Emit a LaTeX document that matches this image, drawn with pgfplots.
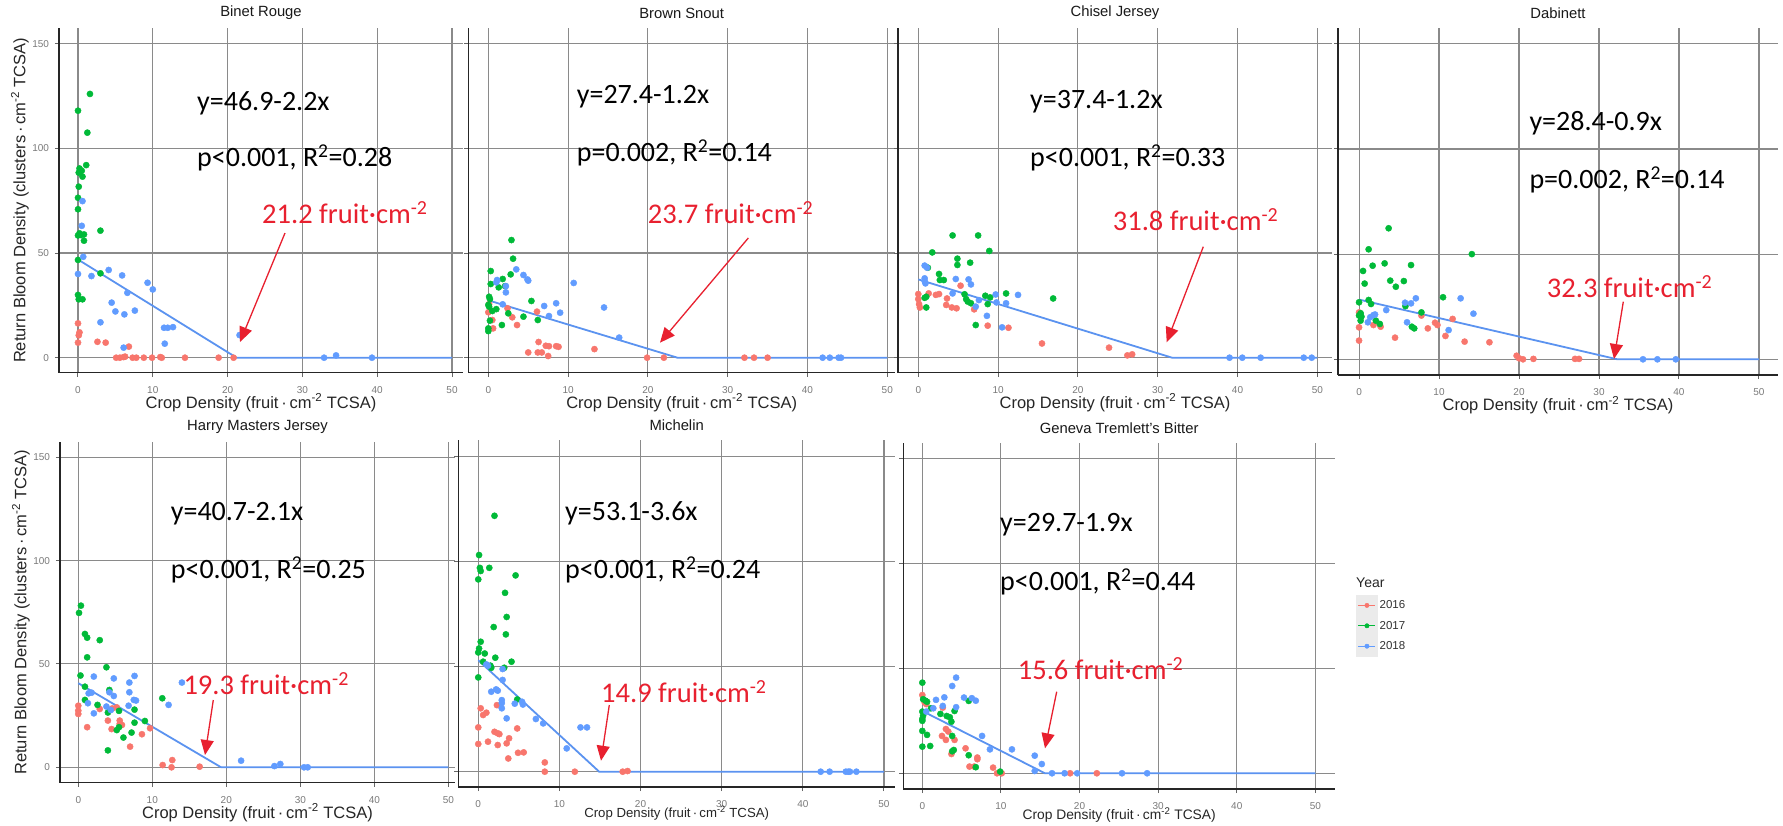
\documentclass[border=0pt]{standalone}
\usepackage{pgfplots}
\pgfplotsset{compat=1.18}
\usepackage{fontspec}
\setmainfont{Liberation Sans}
\newfontfamily\carl{Carlito}
\usetikzlibrary{arrows.meta}
\definecolor{c16}{HTML}{F8766D}
\definecolor{c17}{HTML}{00BA38}
\definecolor{c18}{HTML}{619CFF}
\definecolor{regc}{HTML}{5B93F0}
\definecolor{redt}{HTML}{E8202F}
\definecolor{gridc}{HTML}{8A8A8A}
\definecolor{tickc}{HTML}{7A7A7A}
\newcommand\eqf{\carl\fontsize{28}{31}\selectfont}
\newcommand\redf{\carl\fontsize{28.5}{32}\selectfont\color{redt}}
\newcommand\xlab{Crop Density (fruit\,·\,cm\textsuperscript{-2} TCSA)}
\newcommand\ylab{Return Bloom Density (clusters\,·\,cm\textsuperscript{-2} TCSA)}
\newcommand\tf{\fontsize{14.8}{17}\selectfont}
\pgfplotsset{
 panel/.style={scale only axis, axis x line*=bottom, axis y line*=left,
  axis line style={line width=1.3pt, draw=black!85, -},
  grid=major, grid style={draw=gridc, line width=1.1pt},
  xtick={0,10,20,30,40,50}, ytick={0,50,100,150},
  tick align=outside, major tick length=4pt,
  tick style={draw=black!60, line width=1pt},
  xticklabel style={font=\fontsize{10}{11}\selectfont, text=tickc, yshift=-6pt},
  yticklabel style={font=\fontsize{10}{11}\selectfont, text=tickc, xshift=-2.5pt},
  /pgf/number format/assume math mode=true,
  every axis title/.style={at={(axis description cs:0.5,1)}, anchor=center, yshift=15pt, font=\tf, text=black!90},
  xlabel style={at={(axis description cs:0.5,0)}, anchor=center, yshift=-30pt, font=\fontsize{16.5}{19}\selectfont, text=black!85},
  ylabel style={font=\fontsize{16.5}{19}\selectfont, text=black!85},
  clip=false, xlabel={\xlab}},
 noyl/.style={yticklabels={}},
 s16/.style={only marks, mark=*, mark size=3.1pt, color=c16, mark options={draw=none, fill=c16}},
 s17/.style={only marks, mark=*, mark size=3.1pt, color=c17, mark options={draw=none, fill=c17}},
 s18/.style={only marks, mark=*, mark size=3.1pt, color=c18, mark options={draw=none, fill=c18}},
 reg/.style={regc, line width=1.8pt, no marks, forget plot},
 leg16/.style={legend image code/.code={\fill[black!8](-2pt,-10pt) rectangle (19pt,10pt); \draw[c16, line width=1pt](0pt,0pt)--(17pt,0pt); \fill[c16](8.5pt,0pt) circle (2.2pt);}},
 leg17/.style={legend image code/.code={\fill[black!8](-2pt,-10pt) rectangle (19pt,10pt); \draw[c17, line width=1pt](0pt,0pt)--(17pt,0pt); \fill[c17](8.5pt,0pt) circle (2.2pt);}},
 leg18/.style={legend image code/.code={\fill[black!8](-2pt,-10pt) rectangle (19pt,10pt); \draw[c18, line width=1pt](0pt,0pt)--(17pt,0pt); \fill[c18](8.5pt,0pt) circle (2.2pt);}},
}
\tikzset{arr/.style={draw=redt, line width=1.3pt, -{Triangle[length=15pt,width=13pt]}}}
\begin{document}
\begin{tikzpicture}
\useasboundingbox (0,0) rectangle (1783pt,-825pt);
\fill[white] (0,0) rectangle (1783pt,-825pt);
% Panel 1
\begin{axis}[panel, at={(59pt,-372.7pt)}, anchor=south west, width=404pt, height=344.7pt,
 xmin=-2.54, xmax=51.47, ymin=-7.17, ymax=157.5, title={\tf Binet Rouge},
 ylabel={\ylab}, ylabel style={at={(axis description cs:-0.0965,0.5)}, anchor=center}]
\addplot[s16] coordinates {(0,16.4) (0.2,12.1) (0.1,10.7) (0,7.2) (2.6,7.6) (3.7,7.2) (6.8,5.3) (5.1,0) (5.6,0) (6.1,0.3) (6.3,0.5) (7.3,0) (7.8,0) (8.8,0) (9.9,0) (11.0,0.3) (11.2,0) (14.3,0) (18.8,0) (20.8,0)};
\addplot[s17] coordinates {(1.6,126) (0,118) (1.25,107.5) (1.1,92) (0.2,90.4) (0.5,89.3) (0.1,88.4) (0.6,86.5) (0.1,81.7) (0,76.4) (0,70.9) (3.0,60.7) (0.2,59.4) (0,58.4) (0.8,58.9) (0.4,58.6) (0.8,55.9) (0,46.7) (3.0,40.3) (0,30) (0.1,27.9) (0.6,27.9)};
\addplot[s18] coordinates {(0.6,74.8) (0.5,63) (0.7,48.2) (0,40) (1.8,39) (4.1,41.9) (5.9,39.3) (9.3,35.8) (10.0,32.6) (6.6,31) (4.5,26.3) (5.0,22.1) (6.2,20.7) (7.6,22.5) (3.0,16.9) (11.5,14.3) (12.0,14.3) (12.7,14.6) (11.6,6.7) (6.1,4.8) (21.6,10.8) (32.9,0) (34.5,1.1) (39.3,0)};
\addplot[reg] coordinates {(0,46.9) (21.2,0) (50,0)};
\end{axis}
% Panel 2
\begin{axis}[panel, noyl, at={(468.3pt,-372.7pt)}, anchor=south west, width=426.7pt, height=344.7pt,
 xmin=-2.51, xmax=50.97, ymin=-7.17, ymax=157.5, title={\tf Brown Snout}]
\addplot[s16] coordinates {(0,21.7) (0.5,18) (0.6,14) (0.1,25.6) (2.4,23.6) (3.0,19.3) (3.6,15.6) (6.1,22) (6.3,7.5) (5.0,2.5) (6.2,2.5) (6.7,2.5) (7.2,5.7) (7.6,5.5) (7.5,0.8) (8.5,5.5) (8.8,5.2) (13.3,4.1) (19.9,0) (22.0,0) (32.1,0) (33.3,0) (35.0,0)};
\addplot[s17] coordinates {(2.9,56.2) (3.1,47.3) (0.3,41.4) (2.8,39.8) (1.8,37.6) (0.3,35.2) (1.3,33.6) (2.1,34.2) (0.1,29.1) (0.2,28) (5.4,27.1) (0,25.2) (0.1,24.4) (1.0,23.2) (0.5,22.3) (2.5,21.2) (4.4,19.6) (6.2,18) (0.2,17.7) (1.7,15.6) (0,14) (0,12.7)};
\addplot[s18] coordinates {(3.5,42.2) (4.4,39.5) (4.9,37.4) (5.0,36.8) (1.1,37.1) (1.0,36) (2.2,34.2) (2.2,31.2) (10.7,35.7) (1.8,25.5) (8.5,26) (7.0,24.7) (9.0,21.5) (7.6,19.9) (14.5,24) (16.4,9.6) (41.9,0) (42.8,0) (43.9,0) (44.2,0)};
\addplot[reg] coordinates {(0,27.4) (23.7,0) (50,0)};
\end{axis}
% Panel 3
\begin{axis}[panel, noyl, at={(898pt,-372.7pt)}, anchor=south west, width=434pt, height=344.7pt,
 xmin=-2.54, xmax=51.84, ymin=-7.17, ymax=157.5, title={\tf Chisel Jersey}]
\addplot[s16] coordinates {(0,30.4) (0,28) (0.1,25.6) (0.2,24) (1.3,30.7) (2.2,30) (2.6,30.4) (3.6,28.3) (3.5,25.2) (4.2,24) (4.8,23.6) (5.3,34.4) (7.0,23.1) (8.7,15.3) (11.3,14.3) (15.5,6.8) (23.9,4.8) (26.2,1.1) (26.8,1.6)};
\addplot[s17] coordinates {(4.3,58.4) (7.5,58.4) (8.9,51) (1.75,50.3) (4.9,47.3) (4.9,44.3) (6.5,45.4) (1.2,43) (2.6,40) (2.7,37.1) (3.2,37.1) (1.0,29.1) (0.8,28.6) (5.8,30.3) (6.0,28) (6.2,26.8) (6.6,26) (8.4,29.6) (9.0,28.8) (8.7,25.6) (11.0,30.7) (16.9,28.3) (1.0,24) (7.2,15.6)};
\addplot[s18] coordinates {(0.8,44) (1.1,43) (0.8,37.9) (0.8,36.6) (0.9,35.5) (4.7,37.6) (6.3,37.4) (6.6,35) (4.3,30.7) (7.6,27.5) (7.2,24.4) (9.7,30.2) (9.8,26.4) (11.0,26) (12.5,30) (8.6,20) (10.5,14.5) (39,0) (40.6,0) (42.9,0) (48.3,0) (49.3,0)};
\addplot[reg] coordinates {(0,37.4) (31.8,0) (50,0)};
\end{axis}
% Panel 4
\begin{axis}[panel, noyl, at={(1338pt,-375pt)}, anchor=south west, width=440pt, height=347pt,
 xmin=-2.63, xmax=52.38, ymin=-7.46, ymax=157.5, title={\tf Dabinett}]
\addplot[s16] coordinates {(0,22.3) (0,15.2) (0,8.9) (1.8,16.3) (2.7,15.5) (4.5,10.3) (8.6,14.7) (9.5,17.4) (9.8,16.3) (7.8,20.8) (11.7,19.2) (10.8,11.1) (13.2,8.4) (16.3,8.1) (19.7,1.7) (20.0,0.5) (20.5,0) (21.8,0.2) (27.0,0.2) (27.5,0.2)};
\addplot[s17] coordinates {(3.7,62.3) (1.2,52.3) (14.1,50) (0.5,42) (1.7,44.5) (3.2,45.6) (6.5,44.8) (0.7,36) (3.9,37.4) (5.6,37.2) (4.6,34.5) (10.5,29.5) (0,27.1) (1.2,28.2) (1.5,26.3) (5.8,25.3) (7.8,22.3) (0.2,21.9) (0,20.8) (0.3,20.3) (0.2,18.4) (2.1,18.4) (2.6,16.8) (6.9,14.7) (6.6,15.5)};
\addplot[s18] coordinates {(5.75,26.9) (6.5,26.6) (7.1,29) (3.4,23.4) (12.7,29) (14.3,21.7) (1.8,21) (2.0,21.3) (1.4,20) (1.1,17.6) (6.0,17.6) (11.2,13.9) (35.5,0) (37.3,0) (39.6,0)};
\addplot[reg] coordinates {(0,28.4) (32.3,0) (50,0)};
\end{axis}
% Panel 5
\begin{axis}[panel, at={(60pt,-782.7pt)}, anchor=south west, width=395pt, height=341pt,
 xmin=-2.47, xmax=50.9, ymin=-7.45, ymax=157.5, title={\tf Harry Masters Jersey},
 ylabel={\ylab}, ylabel style={at={(axis description cs:-0.0987,0.5)}, anchor=center}]
\addplot[s16] coordinates {(0,29.8) (0,27.4) (0,25.8) (1.2,19.4) (2.9,28.2) (4.0,22.6) (4.6,28.5) (4.5,18.5) (5.6,22.6) (5.6,21) (5.2,29) (5.9,20.5) (7.0,10) (8.6,16) (9.7,18.9) (11.4,1.1) (12.7,3.5) (12.6,0) (16.4,0.3)};
\addplot[s17] coordinates {(0.36,78.2) (0.1,74.7) (0.9,64.5) (1.2,62.7) (2.9,61.5) (1.2,53.2) (3.8,48.4) (0.3,44.4) (0.9,39) (4.2,37.4) (0.9,32.6) (2.6,30.2) (11.35,33.4) (7.6,27.9) (5.5,27.3) (4.0,26.5) (9.0,22.4) (7.6,21.6) (5.5,19.4) (5.2,18) (7.2,16.8) (6.1,14.4) (4.0,8.2)};
\addplot[s18] coordinates {(2.1,43.9) (7.6,44.2) (4.8,43) (6.9,41) (14.0,41) (4.2,36.3) (1.4,35.8) (1.8,36.1) (6.9,36.3) (4.8,34.5) (7.5,32.6) (7.8,32.3) (1.3,31) (3.8,29.4) (6.8,29.8) (4.4,27.7) (2.1,26.1) (12.2,30.2) (22.0,3.2) (26.5,0.6) (27.3,1.6) (30.5,0) (31.0,0)};
\addplot[reg] coordinates {(0,40.7) (19.3,0) (50,0)};
\end{axis}
% Panel 6
\begin{axis}[panel, noyl, at={(458.3pt,-787pt)}, anchor=south west, width=436.7pt, height=347pt,
 xmin=-2.46, xmax=51.36, ymin=-7.3, ymax=158, title={\tf Michelin},
 xlabel style={yshift=4pt, font=\fontsize{13.2}{15}\selectfont}]
\addplot[s16] coordinates {(0.3,30.2) (0.6,27) (1.0,28.1) (2.3,31.7) (0,21.1) (0,13.2) (1.2,14.3) (2.0,19) (2.4,18.3) (2.6,17.9) (2.4,12.7) (3.5,13.5) (3.8,15.9) (4.8,20.6) (3.7,6.3) (4.9,9) (5.6,9.2) (8.2,4.4) (8.2,0) (11.9,0) (17.8,0) (18.4,0.3)};
\addplot[s17] coordinates {(2.0,121.9) (0.1,103.2) (0.2,97.1) (0.3,95.6) (1.36,97.1) (0,91.6) (4.6,93.5) (3.3,85.2) (3.5,73.7) (1.9,68.9) (3.4,65.4) (0.3,61.9) (0.1,58.7) (0,56.8) (0.8,56.3) (2.1,54.3) (4.1,52.4) (0.6,52.4) (1.5,50.5) (1.6,49.5) (3.2,49.5) (0,44.9) (4.8,34.4)};
\addplot[s18] coordinates {(1.0,51.1) (1.2,50.5) (3.0,48.9) (3.0,43.7) (1.6,38.1) (2.2,39.2) (2.4,38.6) (2.9,34.1) (2.9,32.7) (2.9,30.2) (5.4,33.3) (5.5,32) (4.5,32.4) (3.5,25.4) (7.1,25.1) (8.0,23) (12.6,21.1) (13.4,21.1) (10.9,11.1) (42.2,0) (43.3,0) (45.3,0) (45.6,0) (45.8,0) (46.6,0)};
\addplot[reg] coordinates {(0,53.1) (14.9,0) (50,0)};
\end{axis}
% Panel 7
\begin{axis}[panel, noyl, at={(903.3pt,-789pt)}, anchor=south west, width=431.7pt, height=345.7pt,
 xmin=-2.42, xmax=52.5, ymin=-7.5, ymax=157.3, title={\tf Geneva Tremlett's Bitter},
 xlabel style={yshift=4pt, font=\fontsize{13.8}{15}\selectfont},
 legend style={at={(axis description cs:1.0487,0.5612)}, anchor=north west, draw=none, fill=none, inner sep=0pt, row sep=0pt,
  font=\fontsize{11.5}{13}\selectfont, text=black!80, nodes={inner ysep=0pt, minimum height=20pt}},
 legend cell align=left]
\addplot[s16, leg16] coordinates {(0,37.3) (0.3,33.8) (0.5,33) (2.6,31.3) (3.0,21.1) (3.3,19.9) (2.5,17.8) (3.0,15.9) (4.1,15.9) (3.7,9.2) (5.5,11.9) (7.0,7.5) (7.0,6.7) (6.0,3.2) (6.6,3.2) (9.0,2.7) (9.5,0) (10.1,0) (18.8,0) (22.2,0)};
\addlegendentry{2016}
\addplot[s17, leg17] coordinates {(0,43.2) (0.1,35.3) (0.4,34.6) (0.6,34.1) (5.9,34.5) (1.1,31) (0,29.4) (0.1,27.5) (2.3,28.3) (3.1,27.3) (3.5,26.7) (4.1,29.7) (0,25.9) (0,25) (3.7,24.6) (0,20.2) (0.6,18.3) (3.8,17.8) (0,12.7) (1.0,13) (4.0,11.1) (3.8,10.5) (5.9,8.6) (6.8,2.9) (9.9,0.8)};
\addlegendentry{2017}
\addplot[s18, leg18] coordinates {(4.3,45.6) (3.8,41.6) (1.74,35) (2.8,36.2) (5.3,36.1) (6.3,35.8) (6.8,34.6) (2.6,32.1) (1.4,31) (4.3,31.5) (0.5,29.4) (7.6,17.8) (8.6,11.4) (11.4,11.4) (14.3,8.4) (15.2,4.4) (14.3,1.1) (16.5,0) (18.1,0) (19.7,0) (25.4,0) (28.6,0)};
\addlegendentry{2018}
\addplot[reg] coordinates {(0,29.7) (15.6,0) (50,0)};
\end{axis}
% annotations
\node[anchor=west, inner sep=0, font=\fontsize{14}{16}\selectfont, text=black!85] at (1356pt,-583pt) {Year};
\begin{scope}[every node/.style={anchor=west, inner sep=0pt}]
\node at (197pt,-103pt) {\eqf y=46.9-2.2x};
\node at (197pt,-158pt) {\eqf p<0.001, R\textsuperscript{2}=0.28};
\node at (262pt,-213pt) {\redf 21.2 fruit·cm\textsuperscript{-2}};
\node at (576.7pt,-97pt) {\eqf y=27.4-1.2x};
\node at (576.7pt,-153pt) {\eqf p=0.002, R\textsuperscript{2}=0.14};
\node at (647.7pt,-213pt) {\redf 23.7 fruit·cm\textsuperscript{-2}};
\node at (1030pt,-102pt) {\eqf y=37.4-1.2x};
\node at (1030pt,-158pt) {\eqf p<0.001, R\textsuperscript{2}=0.33};
\node at (1112.7pt,-220pt) {\redf 31.8 fruit·cm\textsuperscript{-2}};
\node at (1529.3pt,-123pt) {\eqf y=28.4-0.9x};
\node at (1529.3pt,-180pt) {\eqf p=0.002, R\textsuperscript{2}=0.14};
\node at (1546.7pt,-286.7pt) {\redf 32.3 fruit·cm\textsuperscript{-2}};
\node at (170.7pt,-513.3pt) {\eqf y=40.7-2.1x};
\node at (170.7pt,-570pt) {\eqf p<0.001, R\textsuperscript{2}=0.25};
\node at (183.3pt,-683.3pt) {\redf 19.3 fruit·cm\textsuperscript{-2}};
\node at (565pt,-513.3pt) {\eqf y=53.1-3.6x};
\node at (565pt,-570pt) {\eqf p<0.001, R\textsuperscript{2}=0.24};
\node at (601pt,-691.7pt) {\redf 14.9 fruit·cm\textsuperscript{-2}};
\node at (1000pt,-525pt) {\eqf y=29.7-1.9x};
\node at (1000pt,-581.7pt) {\eqf p<0.001, R\textsuperscript{2}=0.44};
\node at (1017.7pt,-668.3pt) {\redf 15.6 fruit·cm\textsuperscript{-2}};
\end{scope}
\draw[arr] (285pt,-233pt) -- (240pt,-342pt);
\draw[arr] (748.3pt,-238pt) -- (660pt,-342.7pt);
\draw[arr] (1203.3pt,-246.7pt) -- (1166.7pt,-342.3pt);
\draw[arr] (1623.3pt,-301.7pt) -- (1614pt,-359pt);
\draw[arr] (213.3pt,-700pt) -- (205pt,-755pt);
\draw[arr] (609.3pt,-705pt) -- (601pt,-760.7pt);
\draw[arr] (1056.7pt,-691.7pt) -- (1045pt,-748.3pt);
\end{tikzpicture}
\end{document}
